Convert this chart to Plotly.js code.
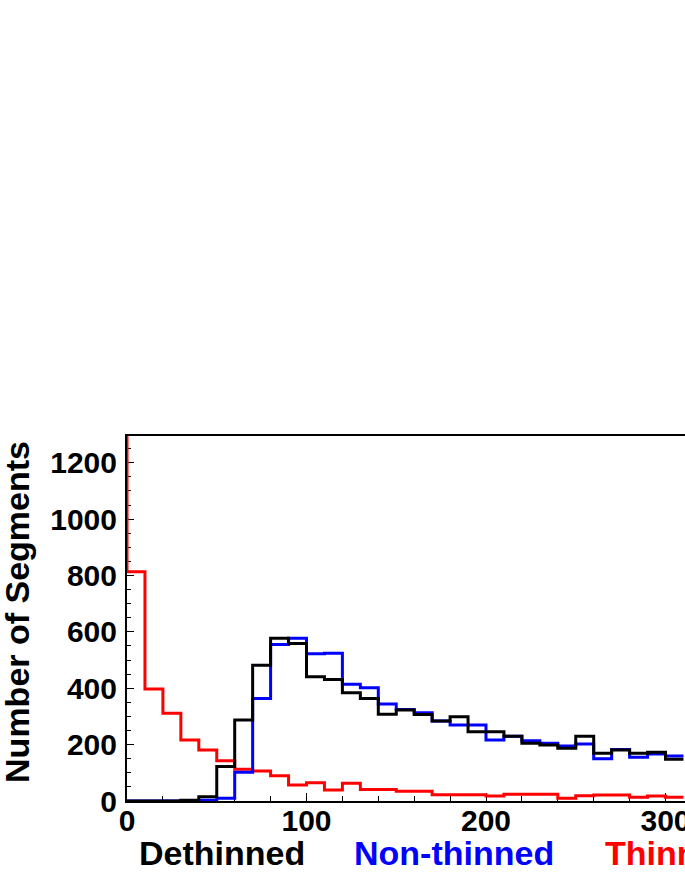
<!DOCTYPE html>
<html>
<head>
<meta charset="utf-8">
<script src="https://cdn.plot.ly/plotly-3.0.1.min.js"></script>
<style>
  html, body { margin: 0; padding: 0; background: #fff; overflow: hidden; }
  #chart { width: 900px; height: 887px; }
</style>
</head>
<body>
<div id="chart"></div>
<script>
// Bin lower edges (width 10)
const binLow = [0,10,20,30,40,50,60,70,80,90,100,110,120,130,140,150,160,170,180,190,200,210,220,230,240,250,260,270,280,290,300];
const binWidth = 10;

const dethinned = [0,0,0,3,15,122,287,482,577,559,441,431,384,364,308,323,307,284,299,246,246,230,205,199,187,230,169,181,169,173,148];
const nonThinned = [0,0,0,0,3,10,102,364,555,577,522,524,414,402,344,325,313,284,270,270,216,230,214,205,195,202,150,183,155,167,160];
const thinned = [813,397,311,216,181,143,113,106,90,57,65,39,63,41,41,35,35,22,22,22,18,24,24,24,10,19,21,21,13,18,13];
// Thinned bin just below 0 (off the top of the scale)
const thinnedUnderflowLow = -10;
const thinnedUnderflow = 2000;

const labels = ["Dethinned", "Non-thinned", "Thinned"];
const yTitle = "Number of Segments";

function steps(lows, vals) {
  const x = lows.concat([lows[lows.length - 1] + binWidth]);
  const y = vals.concat([vals[vals.length - 1]]);
  return {x, y};
}

const sRed = steps([thinnedUnderflowLow].concat(binLow), [thinnedUnderflow].concat(thinned));
const sBlue = steps(binLow, nonThinned);
const sBlack = steps(binLow, dethinned);

const font = "Liberation Sans, Arial, Helvetica, sans-serif";

const traces = [
  {x: sRed.x, y: sRed.y, mode: 'lines', line: {shape: 'hv', color: '#ff0000', width: 3}, name: labels[2]},
  {x: sBlue.x, y: sBlue.y, mode: 'lines', line: {shape: 'hv', color: '#0000ff', width: 3}, name: labels[1]},
  {x: sBlack.x, y: sBlack.y, mode: 'lines', line: {shape: 'hv', color: '#000000', width: 3}, name: labels[0]}
];

const layout = {
  width: 900, height: 887,
  margin: {l: 127, r: 55, t: 436, b: 86},
  paper_bgcolor: '#fff', plot_bgcolor: '#fff',
  showlegend: false,
  xaxis: {
    range: [0, 400], showgrid: false, zeroline: false,
    showline: true, linecolor: '#000', linewidth: 2, mirror: true,
    ticks: 'inside', ticklen: 8, tickwidth: 1, tickcolor: '#000',
    dtick: 100, tick0: 0,
    minor: {dtick: 20, ticks: 'inside', ticklen: 5, tickwidth: 1, tickcolor: '#000'},
    tickfont: {family: font, size: 30, color: '#000', weight: 'bold'},
    ticklabelstandoff: -8,
    layer: 'below traces'
  },
  yaxis: {
    range: [0, 1295], showgrid: false, zeroline: false,
    showline: true, linecolor: '#000', linewidth: 2, mirror: true,
    ticks: 'inside', ticklen: 7, tickwidth: 1, tickcolor: '#000',
    dtick: 200, tick0: 0,
    minor: {dtick: 50, ticks: 'inside', ticklen: 4, tickwidth: 1, tickcolor: '#000'},
    tickfont: {family: font, size: 30, color: '#000', weight: 'bold'},
    ticklabelstandoff: 2,
    layer: 'below traces'
  },
  annotations: [
    {text: yTitle, xref: 'paper', yref: 'paper', x: 0, y: 0.518, xshift: -110,
     xanchor: 'center', yanchor: 'middle', textangle: -90, showarrow: false,
     font: {family: font, size: 34, color: '#000', weight: 'bold'}},
    {text: labels[0], xref: 'x', yref: 'paper', x: 5.6, y: -0.142, xanchor: 'left', yanchor: 'middle',
     showarrow: false, font: {family: font, size: 34, color: '#000000', weight: 'bold'}},
    {text: labels[1], xref: 'x', yref: 'paper', x: 125.3, y: -0.142, xanchor: 'left', yanchor: 'middle',
     showarrow: false, font: {family: font, size: 34, color: '#0000ff', weight: 'bold'}},
    {text: labels[2], xref: 'x', yref: 'paper', x: 265, y: -0.142, xanchor: 'left', yanchor: 'middle',
     showarrow: false, font: {family: font, size: 34, color: '#ff0000', weight: 'bold'}}
  ]
};

Plotly.newPlot('chart', traces, layout, {staticPlot: true, displayModeBar: false});
</script>
</body>
</html>
